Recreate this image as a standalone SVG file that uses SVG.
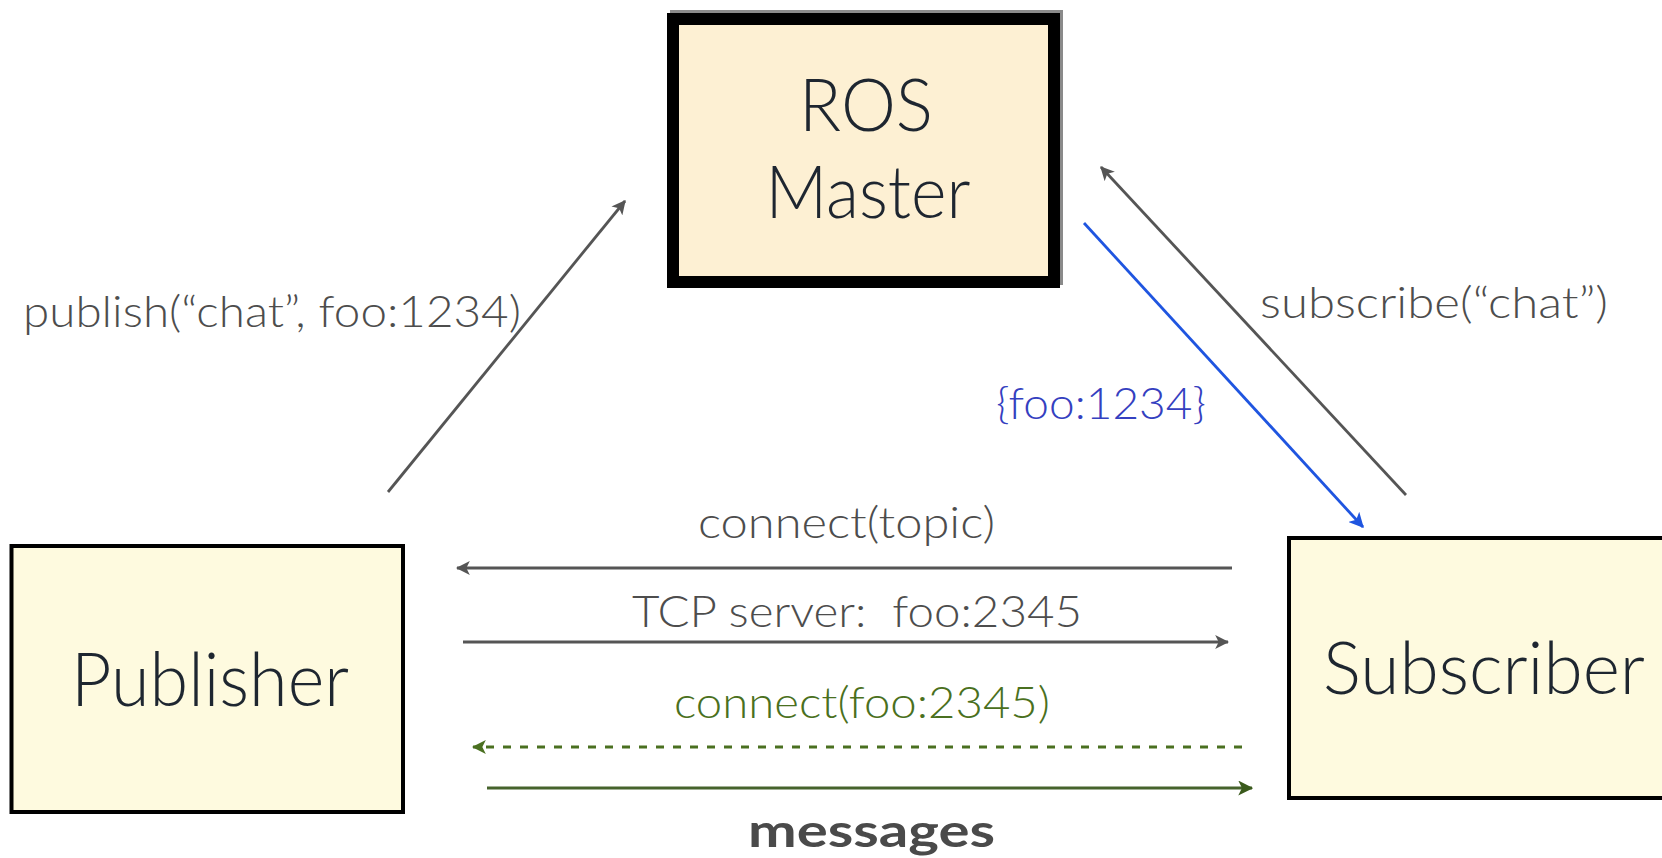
<svg xmlns="http://www.w3.org/2000/svg" width="1662" height="858" viewBox="0 0 1662 858">
  <style>
    .node-text { font-family: Lato, "Open Sans", "Liberation Sans", sans-serif; font-weight: 300; fill: #1e2630; }
    .label { font-family: Lato, "Open Sans", "Liberation Sans", sans-serif; font-weight: 300; font-size: 44px; fill: #4d4d4d; white-space: pre; }
    .gray { stroke: #555555; stroke-width: 2.8; fill: none; }
    .blue { stroke: #1f55e0; stroke-width: 2.8; fill: none; }
    .green { stroke: #4a7020; stroke-width: 2.8; fill: none; }
    .green-dark { stroke: #46632c; stroke-width: 3.2; fill: none; }
  </style>
  <defs>
    <marker id="head-gray" viewBox="0 0 12 12" refX="11" refY="6" markerWidth="14" markerHeight="14" markerUnits="userSpaceOnUse" orient="auto">
      <path d="M0,0 L12,6 L0,12 L3,6 Z" fill="#555555"/>
    </marker>
    <marker id="head-blue" viewBox="0 0 12 12" refX="11" refY="6" markerWidth="15" markerHeight="15" markerUnits="userSpaceOnUse" orient="auto">
      <path d="M0,0 L12,6 L0,12 L3,6 Z" fill="#1f55e0"/>
    </marker>
    <marker id="head-green" viewBox="0 0 12 12" refX="11" refY="6" markerWidth="14" markerHeight="14" markerUnits="userSpaceOnUse" orient="auto">
      <path d="M0,0 L12,6 L0,12 L3,6 Z" fill="#4a7020"/>
    </marker>
    <marker id="head-green-dark" viewBox="0 0 12 12" refX="11" refY="6" markerWidth="15" markerHeight="15" markerUnits="userSpaceOnUse" orient="auto">
      <path d="M0,0 L12,6 L0,12 L3,6 Z" fill="#3a5a1c"/>
    </marker>
  </defs>

  <rect width="1662" height="858" fill="#ffffff"/>

  <!-- ROS Master: heavy border with a faint offset shadow -->
  <g id="ros-master">
    <rect x="676" y="16" width="381" height="263" fill="none" stroke="#8a8a8a" stroke-width="12"/>
    <rect x="673" y="19" width="381" height="263" fill="#fdf0d3" stroke="#000000" stroke-width="12"/>
    <text class="node-text" x="866" y="131" font-size="72" text-anchor="middle" textLength="134" lengthAdjust="spacingAndGlyphs">ROS</text>
    <text class="node-text" x="868" y="218" font-size="72" text-anchor="middle" textLength="205" lengthAdjust="spacingAndGlyphs">Master</text>
  </g>

  <!-- Publisher -->
  <g id="publisher">
    <rect x="11.5" y="546" width="391.5" height="266" fill="#fefadf" stroke="#000000" stroke-width="4"/>
    <text class="node-text" x="71" y="706" font-size="74" textLength="278" lengthAdjust="spacingAndGlyphs">Publisher</text>
  </g>

  <!-- Subscriber (runs past the right edge) -->
  <g id="subscriber">
    <rect x="1289" y="538" width="400" height="260" fill="#fefadf" stroke="#000000" stroke-width="4"/>
    <text class="node-text" x="1323" y="694" font-size="72" textLength="322" lengthAdjust="spacingAndGlyphs">Subscriber</text>
  </g>

  <!-- Connectors -->
  <g id="connectors">
    <line class="gray" x1="388" y1="492" x2="625" y2="201" marker-end="url(#head-gray)"/>
    <line class="gray" x1="1406" y1="495" x2="1101" y2="167" marker-end="url(#head-gray)"/>
    <line class="blue" x1="1084" y1="223" x2="1363" y2="527" marker-end="url(#head-blue)"/>
    <line class="gray" x1="1232" y1="568" x2="457" y2="568" marker-end="url(#head-gray)"/>
    <line class="gray" x1="463" y1="642" x2="1228" y2="642" marker-end="url(#head-gray)"/>
    <line class="green" x1="1242" y1="747" x2="473" y2="747" stroke-dasharray="8 9" marker-end="url(#head-green)"/>
    <line class="green-dark" x1="487" y1="788" x2="1252" y2="788" marker-end="url(#head-green-dark)"/>
  </g>

  <!-- Labels -->
  <g id="labels">
    <text class="label" x="23" y="327" textLength="498" lengthAdjust="spacingAndGlyphs">publish(“chat”, foo:1234)</text>
    <text class="label" x="1260" y="318" textLength="348" lengthAdjust="spacingAndGlyphs">subscribe(“chat”)</text>
    <text class="label" x="996" y="419" textLength="210" lengthAdjust="spacingAndGlyphs" style="fill:#3440c0">{foo:1234}</text>
    <text class="label" x="698" y="538" textLength="297" lengthAdjust="spacingAndGlyphs">connect(topic)</text>
    <text class="label" x="632" y="627" textLength="450" lengthAdjust="spacingAndGlyphs">TCP server:  foo:2345</text>
    <text class="label" x="674" y="718" textLength="376" lengthAdjust="spacingAndGlyphs" style="fill:#4a7020">connect(foo:2345)</text>
    <text x="748" y="847" font-family="Lato, 'Open Sans', 'Liberation Sans', sans-serif" font-weight="bold" font-size="46" fill="#4a4a4a" textLength="247" lengthAdjust="spacingAndGlyphs">messages</text>
  </g>
</svg>
